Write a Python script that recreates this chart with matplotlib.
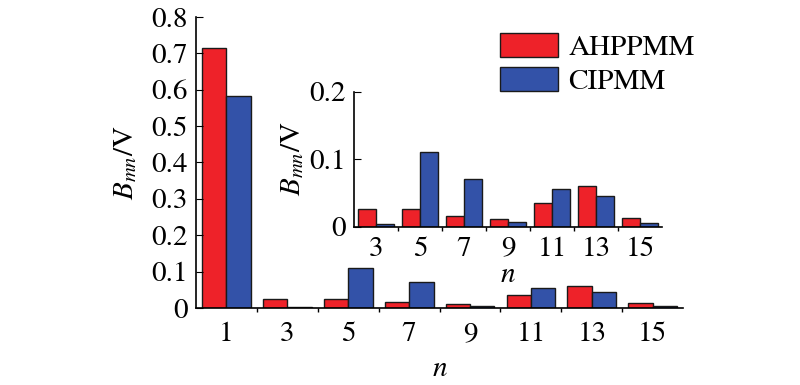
import matplotlib
matplotlib.use("Agg")
import matplotlib.pyplot as plt
import numpy as np

plt.rcParams['font.family'] = ['STIXGeneral', 'Liberation Serif', 'DejaVu Serif']
plt.rcParams['mathtext.fontset'] = 'stix'

orders = [1, 3, 5, 7, 9, 11, 13, 15]
ahppmm = [0.715, 0.026, 0.026, 0.016, 0.011, 0.035, 0.061, 0.0125]
cipmm = [0.583, 0.004, 0.111, 0.071, 0.0065, 0.056, 0.045, 0.0055]
series_names = ['AHPPMM', 'CIPMM']
red = '#EE2229'
blue = '#3352A8'
edge = '#1a1a1a'
fs = 21

fig = plt.figure(figsize=(8, 3.85), dpi=100)
ax = fig.add_axes([0.245, 0.2, 0.609, 0.756])
x = np.arange(len(orders))
w = 0.4
b1 = ax.bar(x - w/2, ahppmm, w, color=red, edgecolor=edge, linewidth=1, label=series_names[0])
b2 = ax.bar(x + w/2, cipmm, w, color=blue, edgecolor=edge, linewidth=1, label=series_names[1])
ax.set_xlim(-0.5, len(orders) - 0.5)
ax.set_ylim(0, 0.8)
ax.set_yticks(np.arange(0, 0.81, 0.1))
ax.set_yticklabels(['0'] + [f'{v:.1f}' for v in np.arange(0.1, 0.81, 0.1)])
ax.set_xticks(x)
ax.set_xticklabels([str(o) for o in orders])
ax.set_xticks(np.arange(0.5, len(orders) - 0.5, 1), minor=True)
ax.tick_params(axis='x', which='major', length=0, pad=10, labelsize=fs)
ax.tick_params(axis='x', which='minor', length=3, direction='out', width=1)
ax.tick_params(axis='y', direction='in', length=5, labelsize=fs, pad=6)
for s in ['top', 'right']:
    ax.spines[s].set_visible(False)
for s in ['left', 'bottom']:
    ax.spines[s].set_linewidth(1.2)
ax.set_xlabel(r'$\mathit{n}$', fontsize=fs, labelpad=7)
ax.set_ylabel(r'$\mathit{B}_{\mathit{mn}}$/V', fontsize=fs, labelpad=9)

leg = ax.legend(handles=[b1, b2], loc='upper left', bbox_to_anchor=(0.6, 0.985),
                frameon=False, fontsize=fs, handlelength=2.0, handleheight=0.9,
                labelspacing=0.2, handletextpad=0.35, borderaxespad=0)

# inset
ins = fig.add_axes([0.4425, 0.411, 0.385, 0.351])
xi = np.arange(len(orders) - 1)
ins.bar(xi - w/2, ahppmm[1:], w, color=red, edgecolor=edge, linewidth=1)
ins.bar(xi + w/2, cipmm[1:], w, color=blue, edgecolor=edge, linewidth=1)
ins.set_xlim(-0.5, len(orders) - 1.5)
ins.set_ylim(0, 0.2)
ins.set_yticks([0, 0.1, 0.2])
ins.set_yticklabels(['0', '0.1', '0.2'])
ins.set_xticks(xi)
ins.set_xticklabels([str(o) for o in orders[1:]])
ins.set_xticks(np.arange(0.5, len(orders) - 1.5, 1), minor=True)
ins.tick_params(axis='x', which='major', length=0, pad=7, labelsize=fs)
ins.tick_params(axis='x', which='minor', length=3, direction='out', width=1)
ins.tick_params(axis='y', direction='in', length=5, labelsize=fs, pad=6)
ins.patch.set_alpha(0)
for s in ['top', 'right']:
    ins.spines[s].set_visible(False)
for s in ['left', 'bottom']:
    ins.spines[s].set_linewidth(1.2)
ins.set_xlabel(r'$\mathit{n}$', fontsize=fs, labelpad=1)
ins.set_ylabel(r'$\mathit{B}_{\mathit{mn}}$/V', fontsize=fs, labelpad=2)

fig.savefig('out.png', dpi=100)
